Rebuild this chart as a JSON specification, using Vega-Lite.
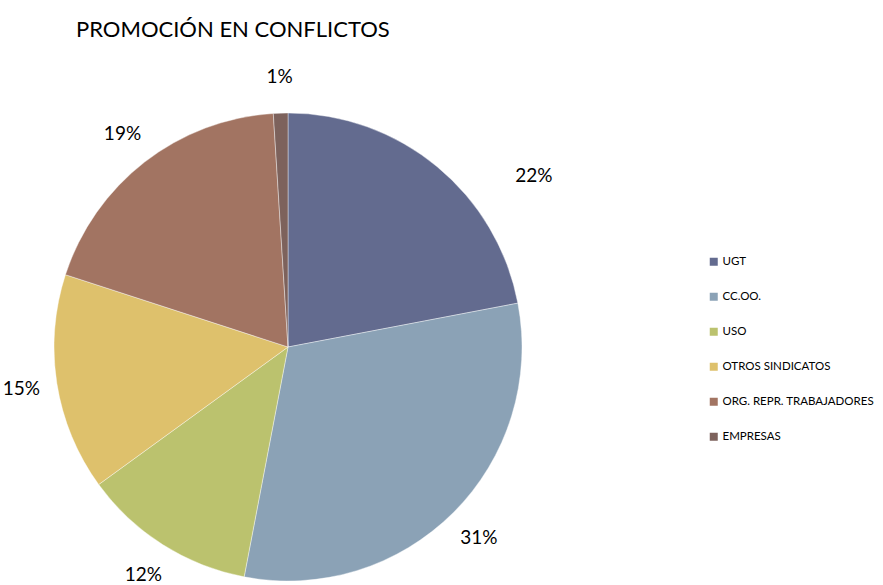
{
  "$schema": "https://vega.github.io/schema/vega-lite/v6.json",
  "width": 576,
  "height": 694,
  "autosize": {"type": "none"},
  "padding": {"left": 0, "top": 0, "right": 307, "bottom": 0},
  "background": "white",
  "view": {"stroke": null},
  "title": {
    "text": "PROMOCIÓN EN CONFLICTOS",
    "anchor": "start",
    "frame": "group",
    "orient": "top",
    "offset": 0,
    "dx": 76,
    "dy": 59,
    "baseline": "alphabetic",
    "font": "Lato",
    "fontSize": 22,
    "fontWeight": "normal",
    "color": "#000000"
  },
  "data": {
    "values": [
      {"sindicato": "UGT", "valor": 0.22, "orden": 1},
      {"sindicato": "CC.OO.", "valor": 0.31, "orden": 2},
      {"sindicato": "USO", "valor": 0.12, "orden": 3},
      {"sindicato": "OTROS SINDICATOS", "valor": 0.15, "orden": 4},
      {"sindicato": "ORG. REPR. TRABAJADORES", "valor": 0.19, "orden": 5},
      {"sindicato": "EMPRESAS", "valor": 0.01, "orden": 6}
    ]
  },
  "encoding": {
    "theta": {"field": "valor", "type": "quantitative", "stack": true},
    "order": {"field": "orden", "type": "quantitative"}
  },
  "layer": [
    {
      "mark": {"type": "arc", "outerRadius": 234, "stroke": "white", "strokeWidth": 0.4},
      "encoding": {
        "color": {
          "field": "sindicato",
          "type": "nominal",
          "scale": {
            "domain": ["UGT", "CC.OO.", "USO", "OTROS SINDICATOS", "ORG. REPR. TRABAJADORES", "EMPRESAS"],
            "range": ["#636B8F", "#8BA2B6", "#BBC26E", "#DEC16C", "#A27462", "#7D625C"]
          },
          "legend": {
            "orient": "none",
            "legendX": 708,
            "legendY": 256,
            "title": null,
            "padding": 0,
            "symbolType": "square",
            "symbolSize": 64,
            "symbolStrokeWidth": 0,
            "labelFont": "Lato",
            "labelFontSize": 11.5,
            "labelColor": "#000000",
            "labelOffset": 3,
            "rowPadding": 22,
            "labelLimit": 300
          }
        }
      }
    },
    {
      "mark": {"type": "text", "radius": 270, "font": "Lato", "fontSize": 19, "color": "#000000"},
      "encoding": {
        "text": {
          "condition": {"test": "datum.sindicato === 'UGT'", "value": ""},
          "field": "valor",
          "type": "quantitative",
          "format": ".0%"
        }
      }
    },
    {
      "mark": {"type": "text", "radius": 276, "dx": 70, "dy": 42, "font": "Lato", "fontSize": 19, "color": "#000000"},
      "encoding": {
        "text": {
          "condition": {"test": "datum.sindicato !== 'UGT'", "value": ""},
          "field": "valor",
          "type": "quantitative",
          "format": ".0%"
        }
      }
    }
  ]
}
